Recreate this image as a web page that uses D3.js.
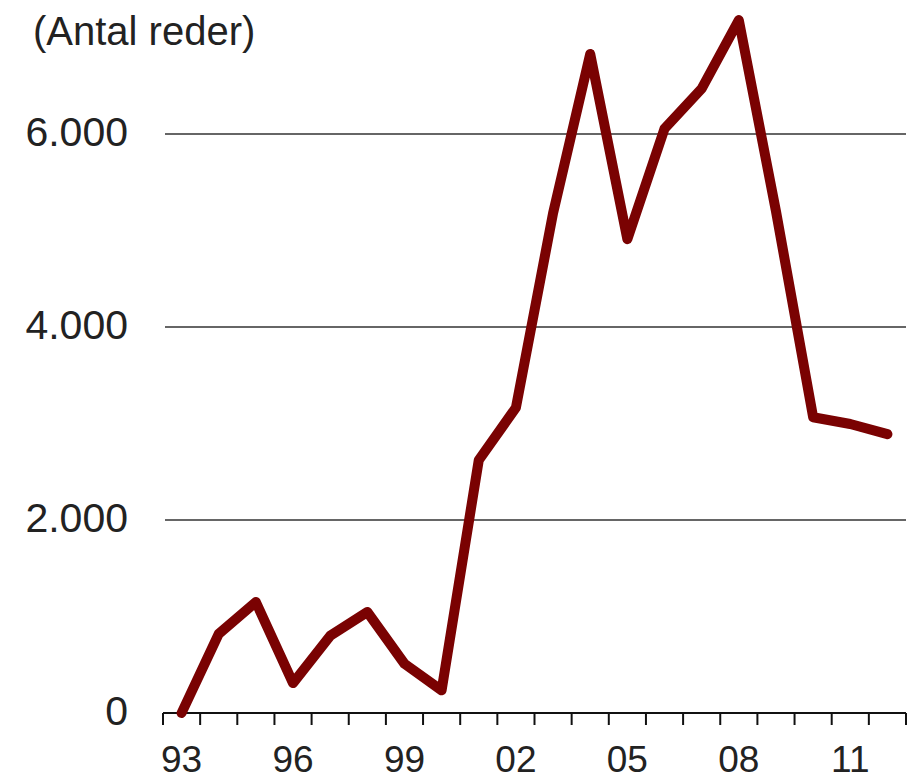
<!DOCTYPE html>
<html>
<head>
<meta charset="utf-8">
<script src="https://cdn.jsdelivr.net/npm/d3@7/dist/d3.min.js"></script>
<style>
  html, body { margin: 0; padding: 0; background: #fff; }
  svg { display: block; }
</style>
</head>
<body>
<script>
// Data
const years = ["93","94","95","96","97","98","99","00","01","02","03","04","05","06","07","08","09","10","11","12"];
const values = [0, 820, 1150, 310, 800, 1047, 510, 235, 2620, 3165, 5180, 6830, 4910, 6055, 6470, 7180, 5200, 3065, 2995, 2890];
const yTicks = [0, 2000, 4000, 6000];
const yTickLabels = ["0", "2.000", "4.000", "6.000"];
const xLabelYears = ["93", "96", "99", "02", "05", "08", "11"];
const unitLabel = "(Antal reder)";

const W = 911, H = 784;
const svg = d3.select("body").append("svg").attr("width", W).attr("height", H);

const x = d3.scaleBand().domain(years).range([163, 906]).padding(0);
const y = d3.scaleLinear().domain([0, 6000]).range([713, 134]);

const font = "'Liberation Sans', Arial, sans-serif";

// Gridlines
svg.append("g").selectAll("line")
  .data(yTicks.filter(d => d > 0))
  .join("line")
  .attr("x1", 165).attr("x2", 906)
  .attr("y1", d => y(d)).attr("y2", d => y(d))
  .attr("stroke", "#333").attr("stroke-width", 1.5);

// Y labels
svg.append("g").selectAll("text")
  .data(yTicks)
  .join("text")
  .attr("x", 128)
  .attr("y", d => y(d) + 12)
  .attr("text-anchor", "end")
  .attr("font-family", font)
  .attr("font-size", 41)
  .attr("fill", "#222")
  .text((d, i) => yTickLabels[i]);

// Unit label
svg.append("text")
  .attr("x", 33).attr("y", 45)
  .attr("font-family", font)
  .attr("font-size", 40)
  .attr("fill", "#222")
  .text(unitLabel);

// X axis line and ticks at band boundaries
const boundaries = years.map(d => x(d)).concat([x(years[years.length - 1]) + x.bandwidth()]);
const ax = svg.append("g");
ax.append("line")
  .attr("x1", boundaries[0]).attr("x2", boundaries[boundaries.length - 1])
  .attr("y1", y(0)).attr("y2", y(0))
  .attr("stroke", "#111").attr("stroke-width", 2);
ax.selectAll("line.tick")
  .data(boundaries)
  .join("line")
  .attr("class", "tick")
  .attr("x1", d => d).attr("x2", d => d)
  .attr("y1", y(0)).attr("y2", y(0) + 12)
  .attr("stroke", "#111").attr("stroke-width", 2);

// X labels
svg.append("g").selectAll("text")
  .data(xLabelYears)
  .join("text")
  .attr("x", d => x(d) + x.bandwidth() / 2)
  .attr("y", 772)
  .attr("text-anchor", "middle")
  .attr("font-family", font)
  .attr("font-size", 37)
  .attr("fill", "#222")
  .text(d => d);

// Line
const line = d3.line()
  .x((d, i) => x(years[i]) + x.bandwidth() / 2)
  .y(d => y(d));

svg.append("path")
  .datum(values)
  .attr("d", line)
  .attr("fill", "none")
  .attr("stroke", "#7a0202")
  .attr("stroke-width", 10)
  .attr("stroke-linejoin", "round")
  .attr("stroke-linecap", "round");
</script>
</body>
</html>
